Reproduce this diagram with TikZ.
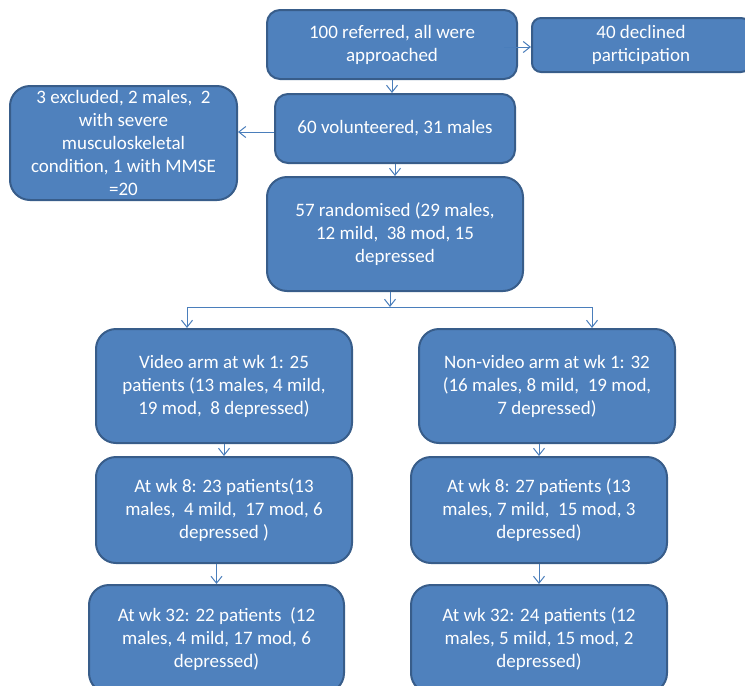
\documentclass[tikz,border=0pt]{standalone}
\usepackage{fontspec}
\setmainfont{Carlito}
\usetikzlibrary{arrows.meta}
\definecolor{boxfill}{HTML}{4F81BD}
\definecolor{boxline}{HTML}{385D8A}
\definecolor{arrline}{HTML}{4A7EBB}
\begin{document}
\begin{tikzpicture}[x=1pt,y=-1pt,
  box/.style={draw=boxline, line width=2pt, fill=boxfill, rounded corners=13pt,
    text=white, align=center, font=\fontsize{19}{23}\selectfont, inner sep=0pt},
  bigbox/.style={box, rounded corners=20pt},
  arr/.style={draw=arrline, line width=1pt, -{Straight Barb[length=7pt,width=11pt]}},
  ln/.style={draw=arrline, line width=1pt}]
\useasboundingbox (0,0) rectangle (745,686);
\clip (0,0) rectangle (745,686);
\node[box, minimum width=250, minimum height=69] (ref) at (392,44.5) {100 referred, all were\\approached};
\node[box, rounded corners=9pt, minimum width=218, minimum height=54] (decl) at (641,45) {40 declined\\participation};
\node[bigbox, minimum width=227, minimum height=114] (excl) at (123.5,143) {3 excluded, 2 males, \ 2\\with severe\\musculoskeletal\\condition, 1 with MMSE\\=20};
\node[box, minimum width=240, minimum height=69] (vol) at (395,128.5) {60 volunteered, 31 males};
\node[bigbox, minimum width=256, minimum height=114] (rand) at (395,234) {57 randomised (29 males,\\12 mild, \ 38 mod, 15\\depressed};
\node[bigbox, minimum width=256, minimum height=114] (vid) at (224,386) {Video arm at wk 1: 25\\patients (13 males, 4 mild,\\19 mod, \ 8 depressed)};
\node[bigbox, minimum width=256, minimum height=114] (nvid) at (547,386) {Non-video arm at wk 1: 32\\(16 males, 8 mild, \ 19 mod,\\7 depressed)};
\node[bigbox, minimum width=256, minimum height=106] (wl) at (224,510) {At wk 8: 23 patients(13\\males, \ 4 mild, \ 17 mod, 6\\depressed )};
\node[bigbox, minimum width=256, minimum height=106] (wr) at (539,510) {At wk 8: 27 patients (13\\males, 7 mild, \ 15 mod, 3\\depressed)};
\node[bigbox, minimum width=255, minimum height=108] (tl) at (216.5,639) {At wk 32: 22 patients \ (12\\males, 4 mild, 17 mod, 6\\depressed)};
\node[bigbox, minimum width=256, minimum height=108] (tr) at (539,639) {At wk 32: 24 patients (12\\males, 5 mild, 15 mod, 2\\depressed)};
\coordinate (split) at (390,307);
\coordinate (sl) at (187,307);
\coordinate (sr) at (592,307);
\draw[arr] ([xshift=-14pt,yshift=-2.5pt]ref.east) -- ([yshift=-2.5pt]ref.east -| decl.west);
\draw[arr] (ref.south) -- (ref.south |- vol.north);
\draw[arr] ([yshift=-3.5pt]vol.west) -- ([yshift=-3.5pt]vol.west -| excl.east);
\draw[arr] (vol.south) -- (vol.south |- rand.north);
\draw[arr] (rand.south -| split) -- (split);
\draw[ln] (sl) -- (sr);
\draw[arr] (sl) -- (sl |- vid.north);
\draw[arr] (sr) -- (sr |- nvid.north);
\draw[arr] (wl.north |- vid.south) -- (wl.north);
\draw[arr] (wr.north |- nvid.south) -- (wr.north);
\draw[arr] (tl.north |- wl.south) -- (tl.north);
\draw[arr] (tr.north |- wr.south) -- (tr.north);
\end{tikzpicture}
\end{document}
